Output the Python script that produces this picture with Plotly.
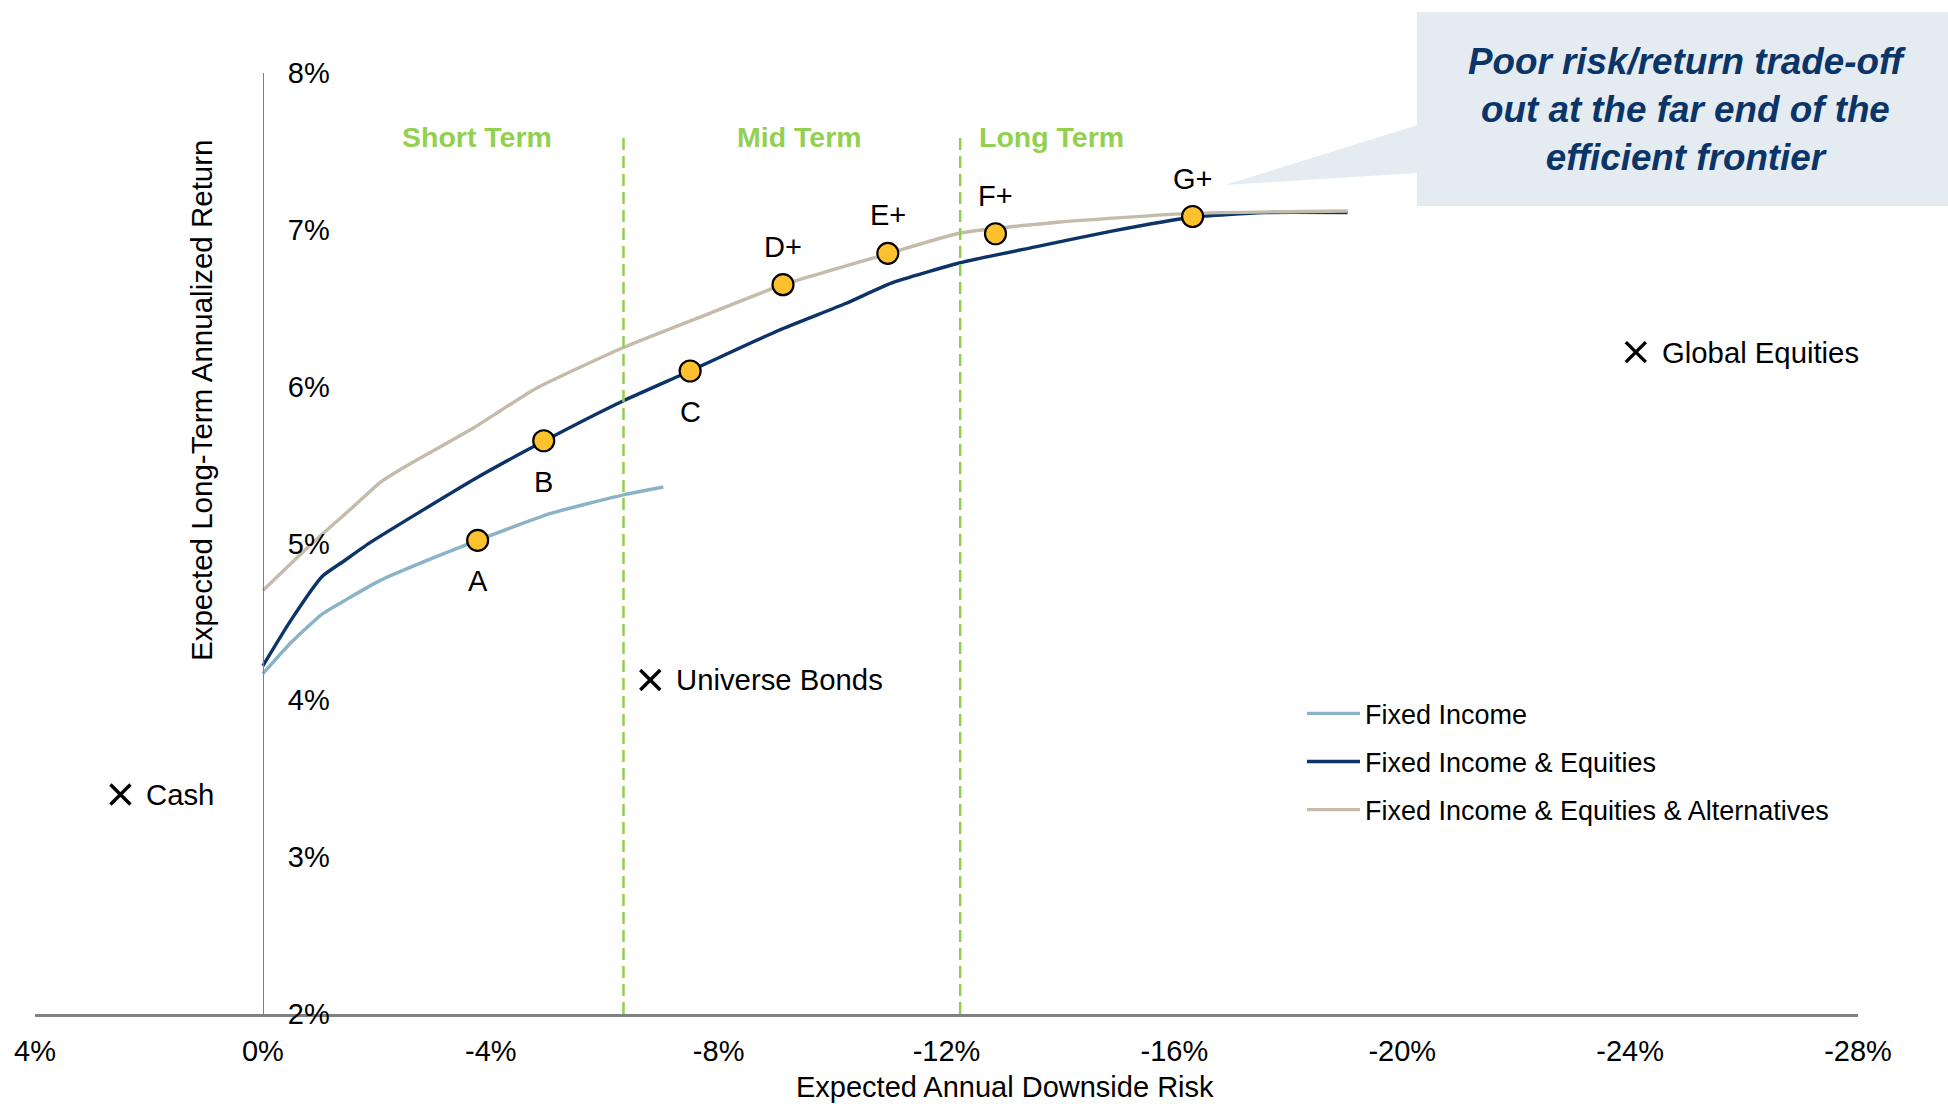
import plotly.graph_objects as go

# ---------------- data ----------------
fi_x = [0, -0.5, -1.04, -1.5, -2.06, -3.0, -3.77, -5.04, -6.33, -7.03]
fi_y = [4.17, 4.37, 4.55, 4.65, 4.765, 4.91, 5.02, 5.19, 5.31, 5.36]

fie_x = [0, -0.49, -1.04, -1.43, -1.90, -3.71, -4.92, -6.33, -7.50, -9.06,
         -10.23, -11.03, -12.24, -13.54, -14.88, -16.31, -17.57, -19.04]
fie_y = [4.22, 4.51, 4.79, 4.89, 5.01, 5.41, 5.65, 5.91, 6.10, 6.36,
         6.53, 6.66, 6.79, 6.89, 6.99, 7.08, 7.11, 7.11]

fiea_x = [0, -0.89, -1.59, -2.06, -2.45, -3.71, -4.80, -6.33, -7.72, -9.13,
          -10.99, -12.24, -13.99, -16.31, -19.04]
fiea_y = [4.70, 5.01, 5.235, 5.39, 5.48, 5.74, 5.99, 6.25, 6.45, 6.65,
          6.85, 6.98, 7.05, 7.105, 7.12]

series_names = ["Fixed Income", "Fixed Income & Equities",
                "Fixed Income & Equities & Alternatives"]

pt_labels = ["A", "B", "C", "D+", "E+", "F+", "G+"]
pt_x = [-3.77, -4.93, -7.50, -9.13, -10.97, -12.86, -16.32]
pt_y = [5.02, 5.655, 6.10, 6.65, 6.85, 6.975, 7.085]

asset_names = ["Cash", "Universe Bonds", "Global Equities"]
asset_x = [2.5, -6.80, -24.10]
asset_y = [3.40, 4.13, 6.22]

zone_names = ["Short Term", "Mid Term", "Long Term"]
zone_label_x = [-3.75, -9.42, -13.84]
zone_bounds = [-6.33, -12.24]
zone_top = 7.59

x_ticks = [4, 0, -4, -8, -12, -16, -20, -24, -28]
y_ticks = [2, 3, 4, 5, 6, 7, 8]

callout_text = "Poor risk/return trade-off<br>out at the far end of the<br>efficient frontier"

# ---------------- style ----------------
FONT = "Liberation Sans, Arial, sans-serif"
C_FI = "#8AB3C8"
C_FIE = "#0D3468"
C_FIEA = "#C5BBAB"
C_GREEN = "#92D050"
C_GOLD = "#FDC12E"
C_BOX = "#E5ECF1"
C_NAVY = "#0B3468"

fig = go.Figure()

for xs, ys, name, col in [(fi_x, fi_y, series_names[0], C_FI),
                          (fie_x, fie_y, series_names[1], C_FIE),
                          (fiea_x, fiea_y, series_names[2], C_FIEA)]:
    fig.add_trace(go.Scatter(x=xs, y=ys, mode="lines", name=name,
                             legendgroup=name,
                             line=dict(color=col, width=3.4, shape="spline", smoothing=0.5),
                             hoverinfo="skip"))

for b in zone_bounds:
    fig.add_trace(go.Scatter(x=[b, b], y=[y_ticks[0], zone_top], mode="lines",
                             showlegend=False,
                             line=dict(color=C_GREEN, width=2.5, dash="12px,6px"),
                             hoverinfo="skip"))

fig.add_trace(go.Scatter(x=pt_x, y=pt_y, mode="markers", showlegend=False,
                         marker=dict(size=21, color=C_GOLD,
                                     line=dict(color="black", width=2.2))))

fig.add_trace(go.Scatter(x=asset_x, y=asset_y, mode="markers", showlegend=False,
                         marker=dict(symbol="x-thin", size=20,
                                     line=dict(color="black", width=3.4))))

annotations = []
for lab, x, y in zip(pt_labels, pt_x, pt_y):
    above = lab.endswith("+")
    annotations.append(dict(x=x, y=y, xref="x", yref="y", text=lab, showarrow=False,
                            xanchor="center", yanchor="middle",
                            yshift=38 if above else -41,
                            font=dict(family=FONT, size=29, color="black")))
for lab, x, y in zip(asset_names, asset_x, asset_y):
    annotations.append(dict(x=x, y=y, xref="x", yref="y", text=lab, showarrow=False,
                            xanchor="left", yanchor="middle", xshift=24,
                            font=dict(family=FONT, size=29.3, color="black")))
for lab, x in zip(zone_names, zone_label_x):
    annotations.append(dict(x=x, y=zone_top, xref="x", yref="y", text=lab, showarrow=False,
                            xanchor="center", yanchor="middle",
                            font=dict(family=FONT, size=28.5, color=C_GREEN, weight="bold")))

annotations.append(dict(x=0.9062, y=0.9617, xref="paper", yref="paper",
                        text=callout_text, showarrow=False, align="center",
                        xanchor="center", yanchor="middle",
                        font=dict(family=FONT, size=36.8, color=C_NAVY,
                                  weight="bold", style="italic")))
annotations.append(dict(x=0.0916, y=0.6525, xref="paper", yref="paper",
                        text="Expected Long-Term Annualized Return", textangle=-90,
                        xanchor="center", yanchor="middle",
                        showarrow=False, font=dict(family=FONT, size=29.5, color="black")))
annotations.append(dict(x=0.532, y=-0.0775, xref="paper", yref="paper",
                        text="Expected Annual Downside Risk", showarrow=False,
                        xanchor="center", yanchor="middle",
                        font=dict(family=FONT, size=29, color="black")))

shapes = [
    dict(type="rect", xref="paper", yref="paper", x0=0.758, x1=1.06, y0=0.8587, y1=1.0648,
         fillcolor=C_BOX, line=dict(width=0), layer="below"),
    dict(type="path", xref="paper", yref="paper",
         path="M 0.7585 0.9447 L 0.6528 0.881 L 0.7585 0.8937 Z",
         fillcolor=C_BOX, line=dict(width=0), layer="below"),
]

fig.update_layout(
    width=1948, height=1104,
    margin=dict(l=35, r=90, t=73, b=90),
    paper_bgcolor="white", plot_bgcolor="white",
    font=dict(family=FONT, size=28, color="black"),
    annotations=annotations, shapes=shapes,
    legend=dict(x=0.695, y=0.345, xanchor="left", yanchor="top",
                font=dict(family=FONT, size=27, color="black"),
                itemwidth=53,
                tracegroupgap=10, bgcolor="rgba(0,0,0,0)"),
    xaxis=dict(range=[x_ticks[0], x_ticks[-1]], tickvals=x_ticks,
               ticktext=[f"{v}%" for v in x_ticks],
               showgrid=False, zeroline=False, showline=True,
               linecolor="#808080", linewidth=2.5, ticks="",
               ticklabelstandoff=9,
               tickfont=dict(family=FONT, size=29, color="black")),
    yaxis=dict(range=[y_ticks[0], y_ticks[-1]], tickvals=y_ticks,
               ticktext=[f"{v}%" for v in y_ticks],
               showgrid=False, zeroline=False, showline=True,
               linecolor="#808080", linewidth=1.2, ticks="",
               anchor="free", position=0.125, side="right",
               ticklabelstandoff=18,
               tickfont=dict(family=FONT, size=29, color="black")),
    showlegend=True,
)

fig.write_html("out.html")
